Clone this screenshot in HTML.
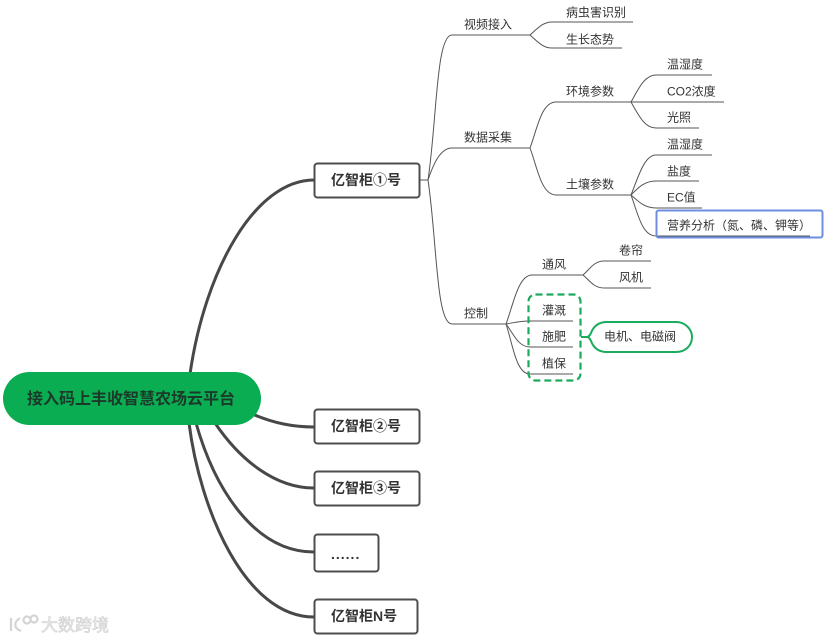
<!DOCTYPE html>
<html><head><meta charset="utf-8"><style>
html,body{margin:0;padding:0;background:#fff;width:835px;height:642px;overflow:hidden}
svg{display:block}
text{font-family:"Liberation Sans","Noto Sans CJK SC",sans-serif;font-size:12px;fill:#333}
.b{font-size:14px;font-weight:700;fill:#333}
.t path{fill:none;stroke:#555;stroke-width:1}
.k path{fill:none;stroke:#484848;stroke-width:3}
.n{fill:#fff;stroke:#4d4d4d;stroke-width:2}
</style></head><body>
<svg width="835" height="642" viewBox="0 0 835 642" xmlns="http://www.w3.org/2000/svg">
<g class="k">
<path d="M190 374C205 270 255 180 314 180"/>
<path d="M250 413C275 424 295 427 314 427"/>
<path d="M215 423C240 460 275 488 314 488"/>
<path d="M196 423C215 490 255 552 314 552"/>
<path d="M189 423C200 510 245 617 314 617"/>
</g>
<g class="t">
<path d="M420 180H428"/>
<path d="M428 180C437 120 436 35 452 35H530"/>
<path d="M530 35C538 28 543 22 552 22H633"/>
<path d="M530 35C538 42 543 48 552 48H622"/>
<path d="M428 180C433 165 440 148 452 148H530"/>
<path d="M530 148C537 130 541 102 556 102H631"/>
<path d="M530 148C537 166 541 195 556 195H631"/>
<path d="M631 102C638 90 644 75 656 75H712"/>
<path d="M631 102H724"/>
<path d="M631 102C638 114 644 128 656 128H699"/>
<path d="M631 195C638 178 644 155 656 155H712"/>
<path d="M631 195C638 188 644 181 656 181H699"/>
<path d="M631 195C638 201 644 208 656 208H702"/>
<path d="M631 195C638 214 642 236 656 236H810"/>
<path d="M428 180C437 240 436 324 452 324H506"/>
<path d="M506 324C513 306 518 275 532 275H583"/>
<path d="M583 275C590 269 594 261 604 261H651"/>
<path d="M583 275C590 281 594 288 604 288H651"/>
<path d="M506 324C513 323 518 321 530 321H573"/>
<path d="M506 324C513 333 518 347 530 347H573"/>
<path d="M506 324C513 345 516 374 530 374H573"/>
</g>
<rect x="3" y="372" width="258" height="53" rx="26.5" fill="#0aad52"/>
<text x="27" y="404" style="font-size:16px;font-weight:700;fill:#1c3a2a">接入码上丰收智慧农场云平台</text>
<rect class="n" x="314.500" y="163.500" width="105" height="34" rx="3"/>
<rect class="n" x="314.500" y="409.500" width="105" height="34" rx="3"/>
<rect class="n" x="314.500" y="471.500" width="105" height="34" rx="3"/>
<rect class="n" x="314.500" y="534.500" width="64" height="37" rx="3"/>
<rect class="n" x="314.500" y="599.500" width="103" height="34" rx="3"/>
<text class="b" x="331" y="185">亿智柜①号</text>
<text class="b" x="331" y="431">亿智柜②号</text>
<text class="b" x="331" y="493">亿智柜③号</text>
<text class="b" x="331" y="559" style="letter-spacing:1px">......</text>
<text class="b" x="331" y="621">亿智柜N号</text>
<text x="464" y="28.500">视频接入</text>
<text x="566" y="16.500">病虫害识别</text>
<text x="566" y="43.500">生长态势</text>
<text x="464" y="141.500">数据采集</text>
<text x="566" y="95.500">环境参数</text>
<text x="667" y="68.500">温湿度</text>
<text x="667" y="95.500">CO2浓度</text>
<text x="667" y="121.500">光照</text>
<text x="566" y="188.500">土壤参数</text>
<text x="667" y="148.500">温湿度</text>
<text x="667" y="175.500">盐度</text>
<text x="667" y="201.500">EC值</text>
<text x="667" y="229.500">营养分析（氮、磷、钾等）</text>
<text x="464" y="317.500">控制</text>
<text x="542" y="268.500">通风</text>
<text x="619" y="254.500">卷帘</text>
<text x="619" y="281.500">风机</text>
<text x="542" y="314.500">灌溉</text>
<text x="542" y="340.500">施肥</text>
<text x="542" y="367.500">植保</text>
<rect x="656.500" y="210.500" width="166" height="27" rx="2" fill="none" stroke="#6f8ee0" stroke-width="2"/>
<rect x="528.500" y="294.500" width="52" height="86" rx="7" fill="none" stroke="#1aab5c" stroke-width="2.200" stroke-dasharray="7 4"/>
<path d="M581 337H587C589 337 590 335 591 333C594 325 600 322 607 322H676C685 322 692 329 692 337C692 346 685 352 676 352H607C600 352 594 349 591 341C590 339 589 337 587 337" fill="#fff" stroke="#1aab5c" stroke-width="2"/>
<text x="604" y="340.500">电机、电磁阀</text>
<g fill="none" stroke="#d4d4d4" stroke-width="2.200">
<path d="M11 618V631"/><path d="M20 618C14 622 13 628 21 631"/>
<circle cx="27" cy="620" r="3.500"/><circle cx="34" cy="619" r="3.500"/>
</g>
<text x="41" y="631" style="font-size:17px;fill:#ececec;stroke:#cfcfcf;stroke-width:.6">大数跨境</text>
</svg>
</body></html>
